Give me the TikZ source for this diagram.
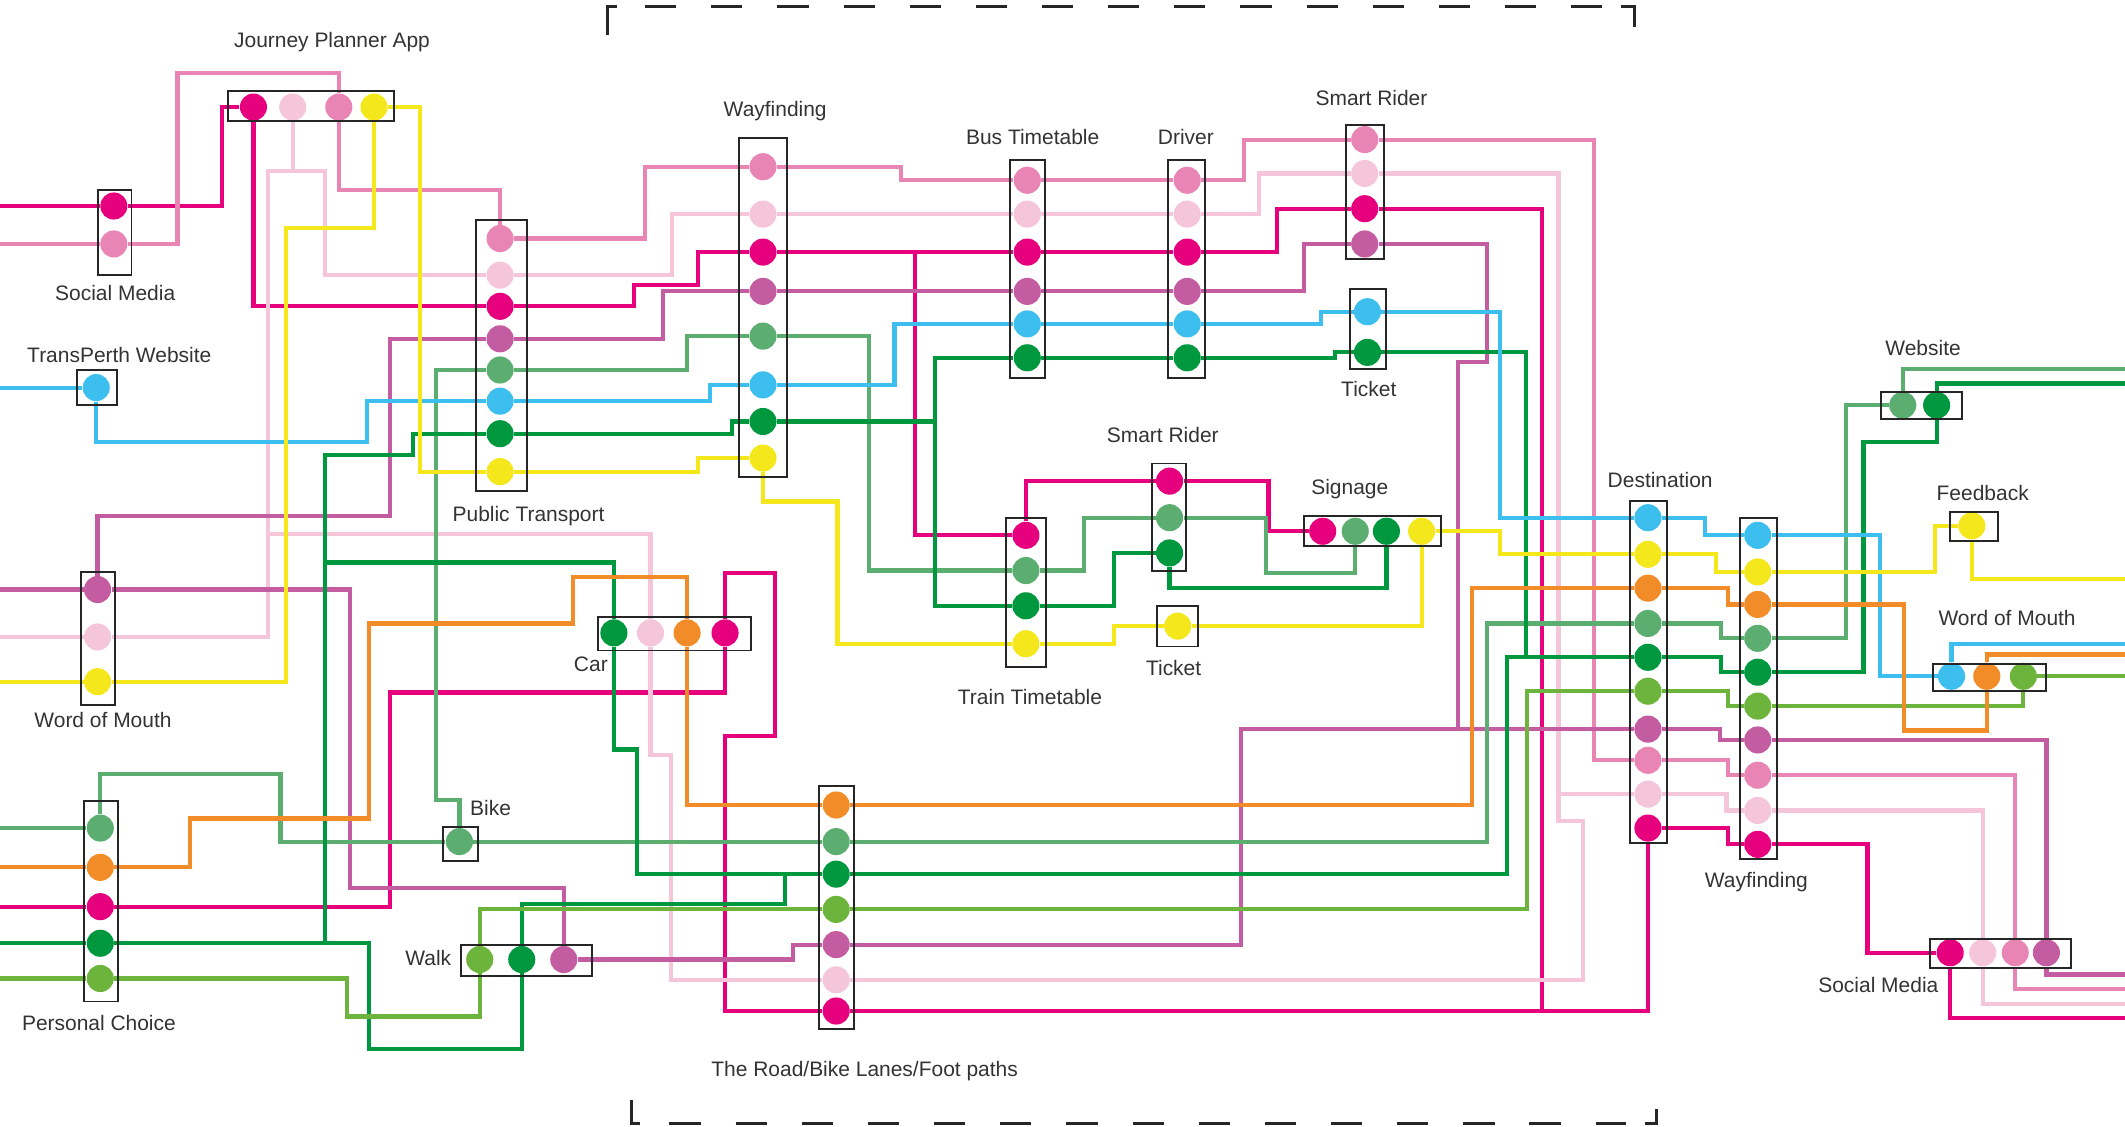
\documentclass[tikz,border=0pt]{standalone}
\usepackage{fontspec}
\setmainfont{Liberation Sans}
\usetikzlibrary{backgrounds}

\definecolor{cM}{HTML}{E6007E}
\definecolor{cP}{HTML}{E985B5}
\definecolor{cLP}{HTML}{F5C5DA}
\definecolor{cV}{HTML}{C35CA0}
\definecolor{cG1}{HTML}{5BAD70}
\definecolor{cG2}{HTML}{00983F}
\definecolor{cLG}{HTML}{6CB43C}
\definecolor{cC}{HTML}{3CBEEE}
\definecolor{cY}{HTML}{F4E81C}
\definecolor{cO}{HTML}{F28C28}

\begin{document}
\begin{tikzpicture}[x=0.025cm,y=-0.025cm]
  \tikzset{stopdot/.style={circle,fill=#1,draw=none,inner sep=0pt,minimum size=0.5cm}}
  \tikzset{route/.style={draw=#1,line width=2.2pt}}
  \tikzset{stationbox/.style={draw=black!85,line width=1pt}}
  \tikzset{stationname/.style={font=\fontsize{11}{13}\selectfont,text=black!80,inner sep=0pt}}
  \tikzset{framedash/.style={draw=black!85,line width=1.6pt}}

  \useasboundingbox (0,0) rectangle (1568,831);
  \coordinate (W) at (0,0);
  \coordinate (E) at (1568,0);

  \node[stopdot=cM] (jpaM) at (187,79) {};
  \node[stopdot=cLP] (jpaLP) at (216,79) {};
  \node[stopdot=cP] (jpaP) at (250,79) {};
  \node[stopdot=cY] (jpaY) at (276,79) {};

  \node[stopdot=cM] (smlM) at (84,152) {};
  \node[stopdot=cP] (smlP) at (84,180) {};

  \node[stopdot=cC] (tpC) at (71,286) {};

  \node[stopdot=cV] (womlV) at (72,435) {};
  \node[stopdot=cLP] (womlLP) at (72,470) {};
  \node[stopdot=cY] (womlY) at (72,503) {};

  \node[stopdot=cG1] (pcG1) at (74,611) {};
  \node[stopdot=cO] (pcO) at (74,640) {};
  \node[stopdot=cM] (pcM) at (74,669) {};
  \node[stopdot=cG2] (pcG2) at (74,696) {};
  \node[stopdot=cLG] (pcLG) at (74,722) {};

  \node[stopdot=cP] (ptP) at (369,176) {};
  \node[stopdot=cLP] (ptLP) at (369,203) {};
  \node[stopdot=cM] (ptM) at (369,226) {};
  \node[stopdot=cV] (ptV) at (369,250) {};
  \node[stopdot=cG1] (ptG1) at (369,273) {};
  \node[stopdot=cC] (ptC) at (369,296) {};
  \node[stopdot=cG2] (ptG2) at (369,320) {};
  \node[stopdot=cY] (ptY) at (369,348) {};

  \node[stopdot=cP] (wfaP) at (563,123) {};
  \node[stopdot=cLP] (wfaLP) at (563,158) {};
  \node[stopdot=cM] (wfaM) at (563,186) {};
  \node[stopdot=cV] (wfaV) at (563,215) {};
  \node[stopdot=cG1] (wfaG1) at (563,248) {};
  \node[stopdot=cC] (wfaC) at (563,284) {};
  \node[stopdot=cG2] (wfaG2) at (563,311) {};
  \node[stopdot=cY] (wfaY) at (563,338) {};

  \node[stopdot=cP] (btP) at (758,133) {};
  \node[stopdot=cLP] (btLP) at (758,158) {};
  \node[stopdot=cM] (btM) at (758,186) {};
  \node[stopdot=cV] (btV) at (758,215) {};
  \node[stopdot=cC] (btC) at (758,239) {};
  \node[stopdot=cG2] (btG2) at (758,264) {};

  \node[stopdot=cP] (drP) at (876,133) {};
  \node[stopdot=cLP] (drLP) at (876,158) {};
  \node[stopdot=cM] (drM) at (876,186) {};
  \node[stopdot=cV] (drV) at (876,215) {};
  \node[stopdot=cC] (drC) at (876,239) {};
  \node[stopdot=cG2] (drG2) at (876,264) {};

  \node[stopdot=cP] (sraP) at (1007,103) {};
  \node[stopdot=cLP] (sraLP) at (1007,128) {};
  \node[stopdot=cM] (sraM) at (1007,154) {};
  \node[stopdot=cV] (sraV) at (1007,180) {};

  \node[stopdot=cC] (tkaC) at (1009,230) {};
  \node[stopdot=cG2] (tkaG2) at (1009,260) {};

  \node[stopdot=cM] (srbM) at (863,355) {};
  \node[stopdot=cG1] (srbG1) at (863,382) {};
  \node[stopdot=cG2] (srbG2) at (863,408) {};

  \node[stopdot=cM] (sgM) at (976,392) {};
  \node[stopdot=cG1] (sgG1) at (1000,392) {};
  \node[stopdot=cG2] (sgG2) at (1023,392) {};
  \node[stopdot=cY] (sgY) at (1049,392) {};

  \node[stopdot=cY] (tkbY) at (869,462) {};

  \node[stopdot=cM] (ttM) at (757,395) {};
  \node[stopdot=cG1] (ttG1) at (757,421) {};
  \node[stopdot=cG2] (ttG2) at (757,447) {};
  \node[stopdot=cY] (ttY) at (757,475) {};

  \node[stopdot=cG2] (carG2) at (453,467) {};
  \node[stopdot=cLP] (carLP) at (480,467) {};
  \node[stopdot=cO] (carO) at (507,467) {};
  \node[stopdot=cM] (carM) at (535,467) {};

  \node[stopdot=cG1] (bike) at (339,621) {};

  \node[stopdot=cLG] (walkLG) at (354,708) {};
  \node[stopdot=cG2] (walkG2) at (385,708) {};
  \node[stopdot=cV] (walkV) at (416,708) {};

  \node[stopdot=cO] (rdO) at (617,594) {};
  \node[stopdot=cG1] (rdG1) at (617,621) {};
  \node[stopdot=cG2] (rdG2) at (617,645) {};
  \node[stopdot=cLG] (rdLG) at (617,671) {};
  \node[stopdot=cV] (rdV) at (617,697) {};
  \node[stopdot=cLP] (rdLP) at (617,723) {};
  \node[stopdot=cM] (rdM) at (617,746) {};

  \node[stopdot=cC] (dsC) at (1216,382) {};
  \node[stopdot=cY] (dsY) at (1216,409) {};
  \node[stopdot=cO] (dsO) at (1216,434) {};
  \node[stopdot=cG1] (dsG1) at (1216,460) {};
  \node[stopdot=cG2] (dsG2) at (1216,485) {};
  \node[stopdot=cLG] (dsLG) at (1216,510) {};
  \node[stopdot=cV] (dsV) at (1216,538) {};
  \node[stopdot=cP] (dsP) at (1216,561) {};
  \node[stopdot=cLP] (dsLP) at (1216,586) {};
  \node[stopdot=cM] (dsM) at (1216,611) {};

  \node[stopdot=cC] (wfbC) at (1297,395) {};
  \node[stopdot=cY] (wfbY) at (1297,422) {};
  \node[stopdot=cO] (wfbO) at (1297,446) {};
  \node[stopdot=cG1] (wfbG1) at (1297,471) {};
  \node[stopdot=cG2] (wfbG2) at (1297,496) {};
  \node[stopdot=cLG] (wfbLG) at (1297,521) {};
  \node[stopdot=cV] (wfbV) at (1297,546) {};
  \node[stopdot=cP] (wfbP) at (1297,572) {};
  \node[stopdot=cLP] (wfbLP) at (1297,598) {};
  \node[stopdot=cM] (wfbM) at (1297,623) {};

  \node[stopdot=cG1] (webG1) at (1404,299) {};
  \node[stopdot=cG2] (webG2) at (1429,299) {};

  \node[stopdot=cY] (fbY) at (1455,388) {};

  \node[stopdot=cC] (womrC) at (1440,499) {};
  \node[stopdot=cO] (womrO) at (1466,499) {};
  \node[stopdot=cLG] (womrLG) at (1493,499) {};

  \node[stopdot=cM] (smrM) at (1439,703) {};
  \node[stopdot=cLP] (smrLP) at (1463,703) {};
  \node[stopdot=cP] (smrP) at (1487,703) {};
  \node[stopdot=cV] (smrV) at (1510,703) {};

  \coordinate (jM) at (675,186);
  \coordinate (jMb) at (1138,746);
  \coordinate (jLPa) at (216,126);
  \coordinate (jLPb) at (198,394);
  \coordinate (jLPc) at (1150,586);
  \coordinate (jV) at (1076,538);
  \coordinate (jG2a) at (240,415);
  \coordinate (jG2b) at (579,645);
  \coordinate (jG2c) at (240,696);
  \coordinate (jG2d) at (690,311);
  \coordinate (jG2e) at (1126,485);
  \coordinate (outG1) at (1568,272);
  \coordinate (outG2) at (1568,283);
  \coordinate (outY) at (1568,427);
  \coordinate (outC) at (1568,475);
  \coordinate (outO) at (1568,483);
  \coordinate (outV) at (1568,719);
  \coordinate (outP) at (1568,730);
  \coordinate (outLP) at (1568,741);
  \coordinate (outM) at (1568,751);

  \begin{scope}[on background layer]
  \draw[route=cM] (smlM -| W) -- (smlM);
  \draw[route=cM] (smlM) -| (164,79) -- (jpaM);
  \draw[route=cM] (jpaM) |- (ptM);
  \draw[route=cM] (ptM) -| (468,210) -| (515,186) -- (wfaM);
  \draw[route=cM] (wfaM) -- (btM);
  \draw[route=cM] (jM) |- (ttM);
  \draw[route=cM] (btM) -- (drM);
  \draw[route=cM] (drM) -| (942,154) -- (sraM);
  \draw[route=cM] (sraM) -| (jMb);
  \draw[route=cM] (rdM) -| (dsM);
  \draw[route=cM] (ttM) |- (srbM);
  \draw[route=cM] (srbM) -| (936,392) -- (sgM);
  \draw[route=cM] (pcM -| W) -- (pcM);
  \draw[route=cM] (pcM) -| (288,511) -| (carM);
  \draw[route=cM] (carM) |- (572,423) |- (535,543) |- (rdM);
  \draw[route=cM] (dsM) -| (1275,623) -- (wfbM);
  \draw[route=cM] (wfbM) -| (1378,703) -- (smrM);
  \draw[route=cM] (smrM) |- (outM);

  \draw[route=cP] (smlP -| W) -- (smlP);
  \draw[route=cP] (smlP) -| (131,54) -| (jpaP);
  \draw[route=cP] (jpaP) |- (369,140) -- (ptP);
  \draw[route=cP] (ptP) -| (476,123) -- (wfaP);
  \draw[route=cP] (wfaP) -| (665,133) -- (btP);
  \draw[route=cP] (btP) -- (drP);
  \draw[route=cP] (drP) -| (918,103) -- (sraP);
  \draw[route=cP] (sraP) -| (1176,561) -- (dsP);
  \draw[route=cP] (dsP) -| (1275,572) -- (wfbP);
  \draw[route=cP] (wfbP) -| (smrP);
  \draw[route=cP] (smrP) |- (outP);

  \draw[route=cLP] (womlLP -| W) -- (womlLP);
  \draw[route=cLP] (jpaLP) |- (198,126) |- (womlLP);
  \draw[route=cLP] (jLPa) -| (240,203) -- (ptLP);
  \draw[route=cLP] (jLPb) -| (carLP);
  \draw[route=cLP] (carLP) |- (495,557) |- (rdLP);
  \draw[route=cLP] (ptLP) -| (496,158) -- (wfaLP);
  \draw[route=cLP] (wfaLP) -- (btLP);
  \draw[route=cLP] (btLP) -- (drLP);
  \draw[route=cLP] (drLP) -| (929,128) -- (sraLP);
  \draw[route=cLP] (sraLP) -| (1150,606) -| (1168,723) -- (rdLP);
  \draw[route=cLP] (jLPc) -- (dsLP);
  \draw[route=cLP] (dsLP) -| (1274,598) -- (wfbLP);
  \draw[route=cLP] (wfbLP) -| (smrLP);
  \draw[route=cLP] (smrLP) |- (outLP);

  \draw[route=cV] (womlV -| W) -- (womlV);
  \draw[route=cV] (womlV) |- (288,381) |- (ptV);
  \draw[route=cV] (womlV) -| (258,655) -| (walkV);
  \draw[route=cV] (walkV) -| (585,697) -- (rdV);
  \draw[route=cV] (ptV) -| (489,215) -- (wfaV);
  \draw[route=cV] (wfaV) -- (btV);
  \draw[route=cV] (btV) -- (drV);
  \draw[route=cV] (drV) -| (962,180) -- (sraV);
  \draw[route=cV] (sraV) -| (1097,267) -| (jV);
  \draw[route=cV] (rdV) -| (916,538) -- (dsV);
  \draw[route=cV] (dsV) -| (1269,546) -- (wfbV);
  \draw[route=cV] (wfbV) -| (smrV);
  \draw[route=cV] (smrV) |- (outV);

  \draw[route=cG1] (pcG1 -| W) -- (pcG1);
  \draw[route=cG1] (pcG1) |- (207,571) |- (bike);
  \draw[route=cG1] (ptG1) -| (322,590) -| (bike);
  \draw[route=cG1] (bike) -- (rdG1);
  \draw[route=cG1] (rdG1) -| (1097,460) -- (dsG1);
  \draw[route=cG1] (ptG1) -| (507,248) -- (wfaG1);
  \draw[route=cG1] (wfaG1) -| (641,421) -- (ttG1);
  \draw[route=cG1] (ttG1) -| (800,382) -- (srbG1);
  \draw[route=cG1] (srbG1) -| (934,423) -| (sgG1);
  \draw[route=cG1] (dsG1) -| (1270,471) -- (wfbG1);
  \draw[route=cG1] (wfbG1) -| (1362,299) -- (webG1);
  \draw[route=cG1] (webG1) |- (outG1);

  \draw[route=cG2] (pcG2 -| W) -- (pcG2);
  \draw[route=cG2] (pcG2) -| (240,336) -| (305,320) -- (ptG2);
  \draw[route=cG2] (jG2a) -| (carG2);
  \draw[route=cG2] (carG2) |- (470,553) |- (rdG2);
  \draw[route=cG2] (jG2b) |- (385,667) -- (walkG2);
  \draw[route=cG2] (walkG2) |- (272,774) |- (jG2c);
  \draw[route=cG2] (ptG2) -| (540,311) -- (wfaG2);
  \draw[route=cG2] (wfaG2) -| (690,264) -- (btG2);
  \draw[route=cG2] (jG2d) |- (ttG2);
  \draw[route=cG2] (btG2) -- (drG2);
  \draw[route=cG2] (drG2) -| (985,260) -- (tkaG2);
  \draw[route=cG2] (tkaG2) -| (jG2e);
  \draw[route=cG2] (rdG2) -| (1112,485) -- (dsG2);
  \draw[route=cG2] (ttG2) -| (822,408) -- (srbG2);
  \draw[route=cG2] (srbG2) |- (1023,434) -- (sgG2);
  \draw[route=cG2] (dsG2) -| (1270,496) -- (wfbG2);
  \draw[route=cG2] (wfbG2) -| (1375,326) -| (webG2);
  \draw[route=cG2] (webG2) |- (outG2);

  \draw[route=cLG] (pcLG -| W) -- (pcLG);
  \draw[route=cLG] (pcLG) -| (256,750) -| (walkLG);
  \draw[route=cLG] (walkLG) |- (rdLG);
  \draw[route=cLG] (rdLG) -| (1127,510) -- (dsLG);
  \draw[route=cLG] (dsLG) -| (1275,521) -- (wfbLG);
  \draw[route=cLG] (wfbLG) -| (womrLG);
  \draw[route=cLG] (womrLG) -- (womrLG -| E);

  \draw[route=cC] (tpC -| W) -- (tpC);
  \draw[route=cC] (tpC) |- (271,326) |- (ptC);
  \draw[route=cC] (ptC) -| (524,284) -- (wfaC);
  \draw[route=cC] (wfaC) -| (660,239) -- (btC);
  \draw[route=cC] (btC) -- (drC);
  \draw[route=cC] (drC) -| (975,230) -- (tkaC);
  \draw[route=cC] (tkaC) -| (1107,382) -- (dsC);
  \draw[route=cC] (dsC) -| (1258,395) -- (wfbC);
  \draw[route=cC] (wfbC) -| (1387,499) -- (womrC);
  \draw[route=cC] (womrC) |- (outC);

  \draw[route=cY] (jpaY) -| (310,348) -- (ptY);
  \draw[route=cY] (jpaY) |- (211,168) |- (womlY);
  \draw[route=cY] (womlY -| W) -- (womlY);
  \draw[route=cY] (ptY) -| (515,338) -- (wfaY);
  \draw[route=cY] (wfaY) |- (618,370) |- (ttY);
  \draw[route=cY] (ttY) -| (822,462) -- (tkbY);
  \draw[route=cY] (tkbY) -| (sgY);
  \draw[route=cY] (sgY) -| (1107,409) -- (dsY);
  \draw[route=cY] (dsY) -| (1266,422) -- (wfbY);
  \draw[route=cY] (wfbY) -| (1428,388) -- (fbY);
  \draw[route=cY] (fbY) |- (outY);

  \draw[route=cO] (pcO -| W) -- (pcO);
  \draw[route=cO] (pcO) -| (140,604) -| (272,460) -| (423,426) -| (carO);
  \draw[route=cO] (carO) |- (rdO);
  \draw[route=cO] (rdO) -| (1086,434) -- (dsO);
  \draw[route=cO] (dsO) -| (1275,446) -- (wfbO);
  \draw[route=cO] (wfbO) -| (1405,539) -| (womrO);
  \draw[route=cO] (womrO) |- (outO);
  \end{scope}

  \draw[stationbox] (168,67) rectangle (291,89);
  \draw[stationbox] (72,140) rectangle (97,203);
  \draw[stationbox] (57,273) rectangle (86,299);
  \draw[stationbox] (60,422) rectangle (85,520);
  \draw[stationbox] (62,591) rectangle (87,739);
  \draw[stationbox] (351,162) rectangle (389,362);
  \draw[stationbox] (545,102) rectangle (581,352);
  \draw[stationbox] (745,118) rectangle (771,279);
  \draw[stationbox] (862,118) rectangle (889,279);
  \draw[stationbox] (993,92) rectangle (1021,191);
  \draw[stationbox] (996,213) rectangle (1023,272);
  \draw[stationbox] (850,342) rectangle (875,421);
  \draw[stationbox] (962,381) rectangle (1063,403);
  \draw[stationbox] (854,447) rectangle (884,477);
  \draw[stationbox] (742,382) rectangle (772,492);
  \draw[stationbox] (441,455) rectangle (554,480);
  \draw[stationbox] (327,610) rectangle (353,635);
  \draw[stationbox] (340,697) rectangle (437,720);
  \draw[stationbox] (604,580) rectangle (630,759);
  \draw[stationbox] (1203,370) rectangle (1230,622);
  \draw[stationbox] (1284,382) rectangle (1311,634);
  \draw[stationbox] (1388,289) rectangle (1448,309);
  \draw[stationbox] (1439,378) rectangle (1474,399);
  \draw[stationbox] (1426,490) rectangle (1510,510);
  \draw[stationbox] (1424,693) rectangle (1528,714);

  \node[stationname] (lbJPA) at (245,31) {Journey Planner App};
  \node[stationname] (lbSML) at (85,216) {Social Media};
  \node[stationname] (lbTP) at (88,262) {TransPerth Website};
  \node[stationname] (lbWOML) at (76,531) {Word of Mouth};
  \node[stationname] (lbPC) at (73,755) {Personal Choice};
  \node[stationname] (lbPT) at (390,381) {Public Transport};
  \node[stationname] (lbWFA) at (572,82) {Wayfinding};
  \node[stationname] (lbBT) at (762,101) {Bus Timetable};
  \node[stationname] (lbDR) at (875,101) {Driver};
  \node[stationname] (lbSRA) at (1012,72) {Smart Rider};
  \node[stationname] (lbTKA) at (1010,287) {Ticket};
  \node[stationname] (lbSRB) at (858,321) {Smart Rider};
  \node[stationname] (lbSG) at (996,361) {Signage};
  \node[stationname] (lbTKB) at (866,493) {Ticket};
  \node[stationname] (lbTT) at (760,514) {Train Timetable};
  \node[stationname] (lbCAR) at (436,490) {Car};
  \node[stationname] (lbBIKE) at (362,596) {Bike};
  \node[stationname] (lbWALK) at (316,707) {Walk};
  \node[stationname] (lbRD) at (638,790) {The Road/Bike Lanes/Foot paths};
  \node[stationname] (lbDS) at (1225,354) {Destination};
  \node[stationname] (lbWFB) at (1296,651) {Wayfinding};
  \node[stationname] (lbWEB) at (1419,257) {Website};
  \node[stationname] (lbFB) at (1463,364) {Feedback};
  \node[stationname] (lbWOMR) at (1481,456) {Word of Mouth};
  \node[stationname] (lbSMR) at (1386,727) {Social Media};

  \draw[framedash] (448,26) -- (448,5) -- (455,5);
  \draw[framedash,dash pattern=on 0.575cm off 0.645cm] (476,5) -- (1185,5);
  \draw[framedash] (1196,5) -- (1206,5) -- (1206,20);
  \draw[framedash] (466,812) -- (466,829) -- (472,829);
  \draw[framedash,dash pattern=on 0.575cm off 0.645cm] (494,829) -- (1200,829);
  \draw[framedash] (1214,829) -- (1222,829) -- (1222,818);
\end{tikzpicture}
\end{document}
